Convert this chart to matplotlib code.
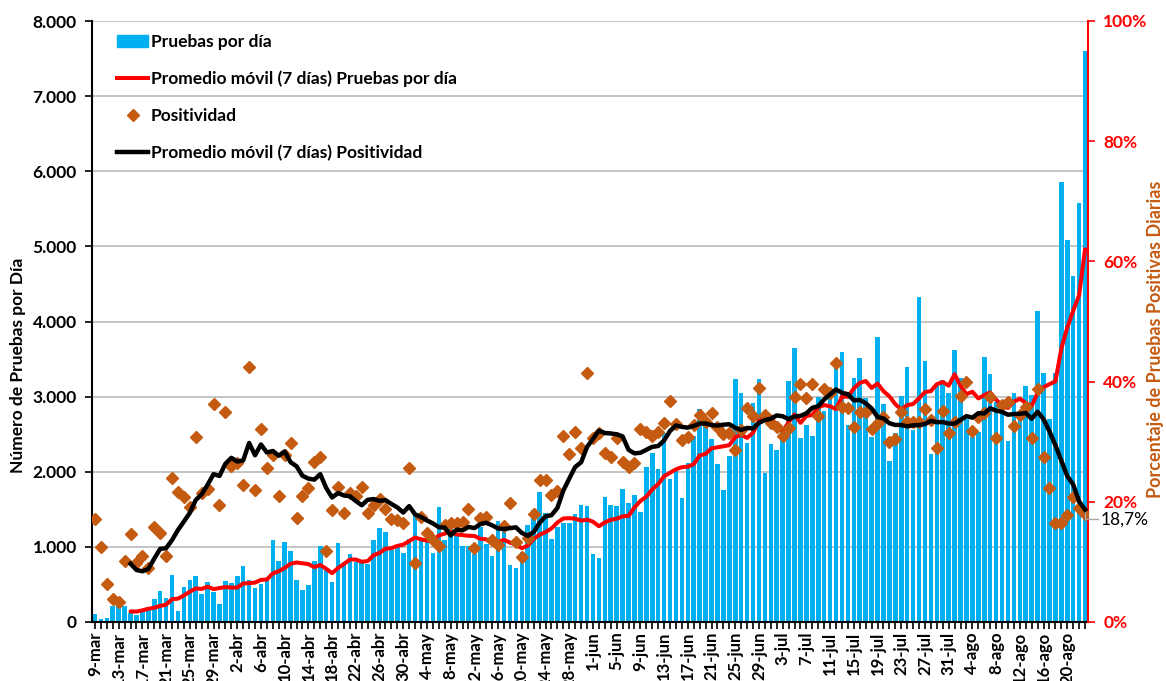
import numpy as np
import pandas as pd
import matplotlib
matplotlib.use('Agg')
import matplotlib.pyplot as plt
from matplotlib.lines import Line2D
from matplotlib.patches import Patch
from matplotlib.ticker import FuncFormatter, MultipleLocator

plt.rcParams['font.family'] = ['Lato', 'DejaVu Sans']

# daily tests, from 9-mar to 23-ago
pruebas = [110, 45, 55, 215, 235, 210, 115, 95, 160, 205,
           310, 410, 320, 630, 140, 460, 555, 610, 370, 530,
           400, 240, 545, 515, 610, 750, 560, 450, 500, 570,
           1090, 810, 1065, 945, 565, 425, 495, 810, 1005, 715,
           535, 1045, 800, 910, 805, 805, 775, 1090, 1245, 1200,
           965, 1010, 920, 1105, 1425, 1080, 1075, 925, 1535, 1085,
           1280, 1180, 1015, 1015, 905, 1270, 1040, 875, 1340, 1210,
           760, 715, 935, 1290, 1490, 1735, 1450, 1100, 1270, 1315,
           1315, 1440, 1555, 1545, 905, 850, 1665, 1560, 1545, 1775,
           1590, 1685, 1460, 2060, 2245, 2030, 2510, 1910, 2015, 1655,
           2110, 2475, 2840, 2655, 2440, 2100, 1755, 2210, 3230, 3045,
           2380, 2910, 3230, 1990, 2370, 2290, 2600, 3210, 3650, 2450,
           2620, 2470, 3000, 2810, 3100, 3390, 3600, 2620, 3250, 3510,
           2980, 2460, 3790, 2900, 2140, 2515, 3010, 3395, 2560, 4325,
           3475, 2235, 3155, 3220, 3050, 3620, 3250, 2700, 2460, 2530,
           3530, 3300, 2930, 2780, 2410, 3050, 2800, 3140, 3020, 4140,
           3310, 2700, 3310, 5855, 5085, 4605, 5575, 7600]

# daily positivity (%)
positividad = [17.1, 12.5, 6.3, 3.8, 3.4, 10.2, 14.6, 9.8, 11.0, 9.0,
               15.8, 14.8, 11.0, 24.0, 21.6, 20.8, 19.1, 30.8, 21.5, 22.1,
               36.3, 19.5, 35.0, 26.0, 26.5, 22.8, 42.4, 22.0, 32.1, 25.6,
               27.8, 21.0, 27.8, 29.8, 17.3, 21.0, 22.3, 26.6, 27.4, 11.8,
               18.6, 22.5, 18.1, 21.5, 21.0, 22.5, 18.1, 19.5, 20.5, 18.8,
               17.1, 17.0, 16.5, 25.6, 9.8, 17.5, 14.8, 13.6, 12.6, 16.1,
               16.5, 16.5, 16.6, 18.8, 12.3, 17.3, 17.5, 13.6, 12.8, 16.0,
               19.8, 13.3, 10.8, 14.0, 18.0, 23.6, 23.6, 21.1, 21.8, 30.9,
               28.0, 31.6, 29.0, 41.4, 30.6, 31.4, 28.1, 27.5, 30.6, 26.6,
               25.8, 26.4, 32.1, 31.6, 30.9, 31.6, 33.1, 36.8, 32.9, 30.3,
               30.8, 32.8, 34.4, 33.3, 34.8, 32.4, 31.3, 31.4, 28.6, 31.9,
               35.6, 34.3, 38.9, 34.4, 33.1, 32.4, 30.9, 32.3, 37.4, 39.6,
               37.3, 39.6, 34.3, 38.8, 38.1, 43.1, 35.8, 35.6, 32.4, 34.9,
               34.9, 32.1, 33.1, 34.1, 30.0, 30.4, 34.9, 33.3, 33.3, 33.3,
               35.4, 33.6, 28.9, 35.1, 31.4, 33.3, 37.6, 39.9, 31.8, 34.1,
               34.8, 37.4, 30.6, 36.1, 36.6, 32.6, 34.4, 35.8, 30.6, 38.8,
               27.5, 22.3, 16.5, 16.5, 17.8, 20.8, 19.0, 18.0]

fecha_inicio = '2020-03-09'
meses = {3: 'mar', 4: 'abr', 5: 'may', 6: 'jun', 7: 'jul', 8: 'ago'}

n = len(pruebas)
fechas = pd.date_range(fecha_inicio, periods=n, freq='D')
etiquetas = [f'{d.day}-{meses[d.month]}' for d in fechas]

df = pd.DataFrame({'pruebas': pruebas, 'pos': np.array(positividad) / 100.0})
ma_pruebas = df['pruebas'].rolling(7).mean()
ma_pos = df['pos'].rolling(7).mean()

W, H = 1166, 681
fig = plt.figure(figsize=(W / 100, H / 100), dpi=100)
ax = fig.add_axes([92 / W, 1 - 622 / H, (1088 - 92) / W, (622 - 21) / H])
x = np.arange(n)

ax.bar(x, df['pruebas'], width=0.78, color='#00B0F0', zorder=2)
ax.plot(x, ma_pruebas, color='#FF0000', lw=2.9, zorder=3, solid_capstyle='round')

ax.set_xlim(-0.5, n - 0.5)
ax.set_ylim(0, 8000)
ax.yaxis.set_major_locator(MultipleLocator(1000))
ax.yaxis.set_major_formatter(FuncFormatter(lambda v, p: f'{int(v):,}'.replace(',', '.')))
ax.yaxis.grid(True, color='#BFBFBF', lw=1.3)
ax.set_axisbelow(True)

ax.set_xticks(x[::4])
ax.set_xticklabels(etiquetas[::4], rotation=90, fontsize=12, fontweight='bold')
ax.set_xticks(x, minor=True)
ax.tick_params(axis='x', which='both', length=5, width=1.2, color='black', pad=2)
ax.tick_params(axis='y', length=5, width=1.2, labelsize=12.5, pad=6)
for lab in ax.get_yticklabels():
    lab.set_fontweight('bold')

for s in ['top', 'right']:
    ax.spines[s].set_visible(False)
for s in ['left', 'bottom']:
    ax.spines[s].set_linewidth(1.5)

# secondary axis: positivity
ax2 = ax.twinx()
ax2.plot(x, df['pos'], ls='none', marker='D', ms=6, color='#C55A11', zorder=3)
ax2.plot(x, ma_pos, color='black', lw=3.2, zorder=4)
ax2.set_ylim(0, 1)
ax2.yaxis.set_major_locator(MultipleLocator(0.2))
ax2.yaxis.set_major_formatter(FuncFormatter(lambda v, p: f'{v * 100:.0f}%'))
ax2.tick_params(axis='y', colors='#FF0000', length=5, width=1.2, labelsize=12.5, pad=6)
for lab in ax2.get_yticklabels():
    lab.set_fontweight('bold')
ax2.spines['right'].set_color('#FF0000')
ax2.spines['right'].set_linewidth(1.5)
for s in ['left', 'top', 'bottom']:
    ax2.spines[s].set_visible(False)

# last value label
ult = ma_pos.iloc[-1]
ax2.annotate(f'{ult * 100:.1f}%'.replace('.', ','), xy=(x[-1], ult),
             xytext=(11, -7), textcoords='offset points', fontsize=12.5,
             va='center', ha='left', color='black',
             arrowprops=dict(arrowstyle='-', color='#A6A6A6', lw=1,
                             shrinkA=0, shrinkB=0, connectionstyle='angle,angleA=0,angleB=90'))

fig.text(18 / W, 1 - 365 / H, 'Número de Pruebas por Día', rotation=90,
         ha='center', va='center', fontsize=12.5, fontweight='bold')
fig.text(1155 / W, 1 - 339 / H, 'Porcentaje de Pruebas Positivas Diarias', rotation=90,
         ha='center', va='center', fontsize=13, fontweight='bold', color='#C55A11')

handles = [Patch(color='#00B0F0'),
           Line2D([], [], color='#FF0000', lw=2.9),
           Line2D([], [], ls='none', marker='D', ms=6, color='#C55A11'),
           Line2D([], [], color='black', lw=3.2)]
labels = ['Pruebas por día', 'Promedio móvil (7 días) Pruebas por día',
          'Positividad', 'Promedio móvil (7 días) Positividad']
leg = ax2.legend(handles, labels, loc='upper left', bbox_to_anchor=(117 / W, 1 - 34 / H),
                 bbox_transform=fig.transFigure, frameon=False, borderpad=0,
                 borderaxespad=0, handlelength=1.8, handletextpad=0.15,
                 labelspacing=1.2, prop={'weight': 'bold', 'size': 12.5})

fig.savefig('out.png', dpi=100)
